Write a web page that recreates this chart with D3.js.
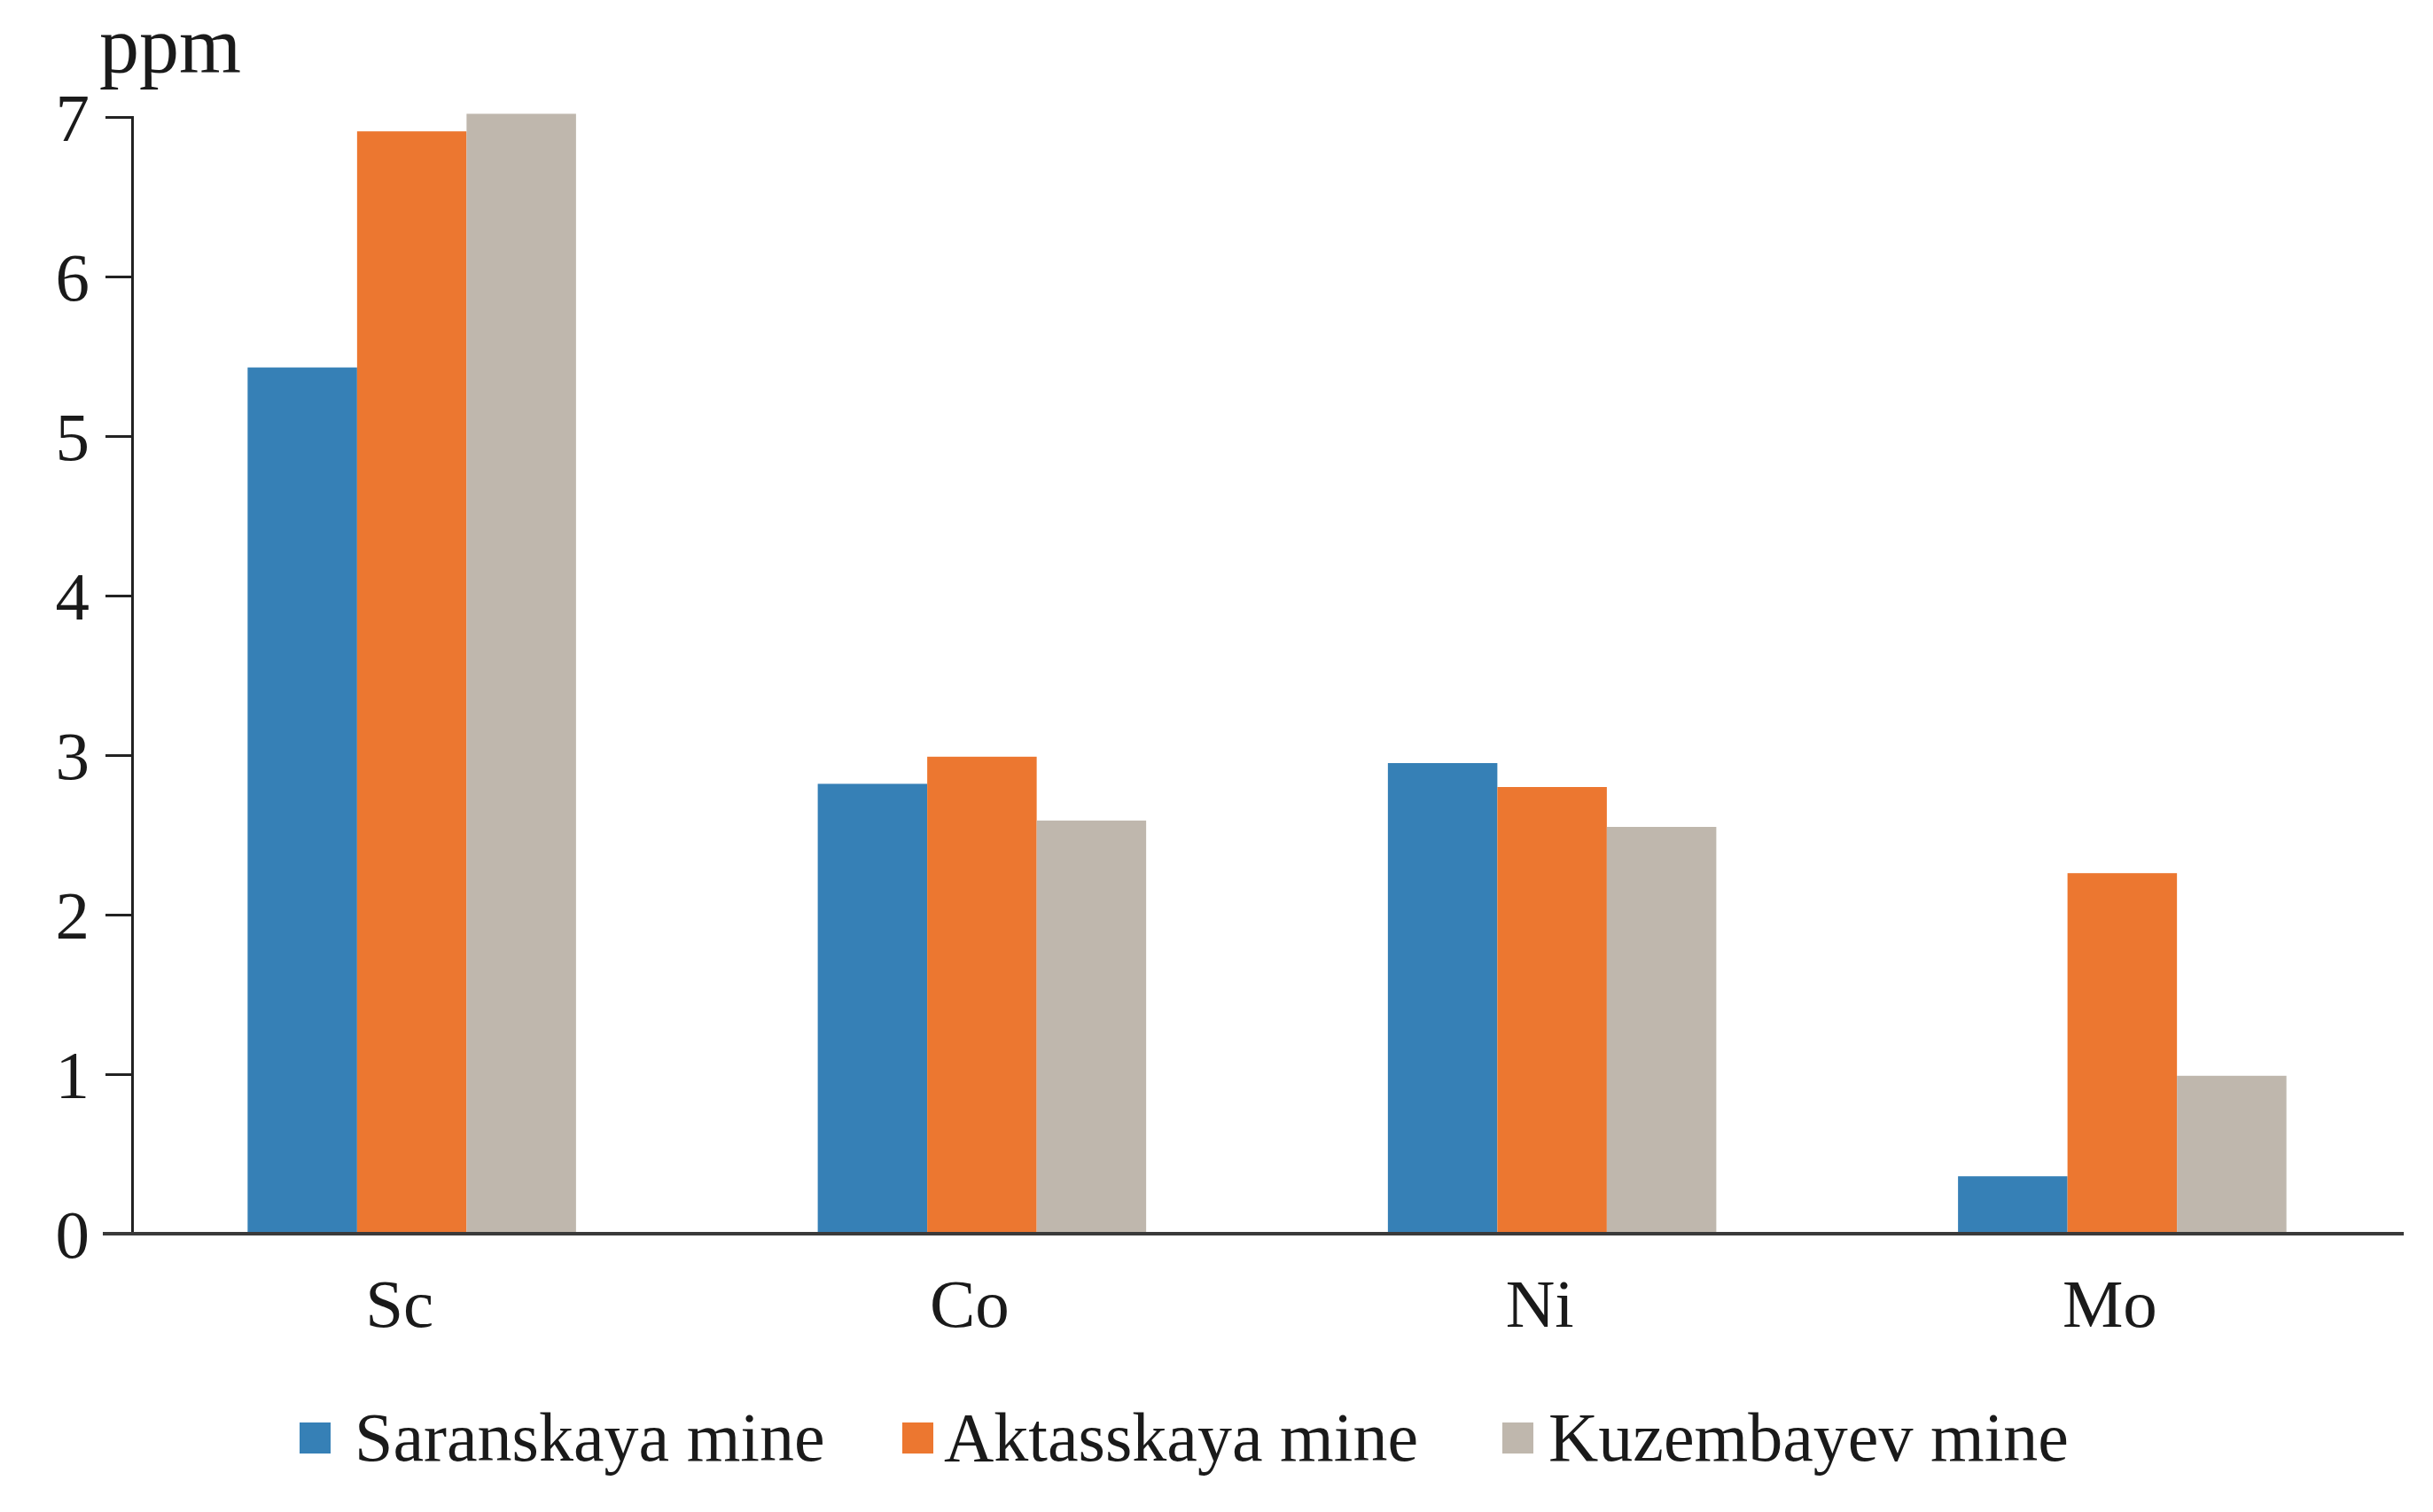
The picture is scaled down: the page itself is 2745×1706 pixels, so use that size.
<!DOCTYPE html>
<html>
<head>
<meta charset="utf-8">
<script src="https://cdn.jsdelivr.net/npm/d3@7"></script>
<style>
  html, body { margin: 0; padding: 0; background: #fff; }
  svg { display: block; }
  text { font-family: "Liberation Serif", "Times New Roman", serif; fill: #1a1a1a; }
</style>
</head>
<body>
<svg id="chart" width="2745" height="1706"></svg>
<script>
// ---- data ----
const categories = ["Sc", "Co", "Ni", "Mo"];
const seriesNames = ["Saranskaya mine", "Aktasskaya mine", "Kuzembayev mine"];
const saranskaya = [5.43, 2.82, 2.95, 0.36];
const aktasskaya = [6.91, 2.99, 2.80, 2.26];
const kuzembayev = [7.02, 2.59, 2.55, 0.99];
const yTicks = [0, 1, 2, 3, 4, 5, 6, 7];
const unitLabel = "ppm";

const seriesValues = [saranskaya, aktasskaya, kuzembayev];
const colors = ["#3680b6", "#ec7730", "#bfb7ad"];

// ---- layout ----
const W = 2745, H = 1706;
const axisX = 149, y0 = 1392, yTop = 132;
const bandStart = 143, bandEnd = 2716;

const svg = d3.select("#chart");
svg.append("rect").attr("width", W).attr("height", H).attr("fill", "#fff");

const y = d3.scaleLinear().domain([0, 7]).range([y0, yTop]);
const x0 = d3.scaleBand().domain(categories).range([bandStart, bandEnd])
  .paddingInner(0.424).paddingOuter(0.212);
const x1 = d3.scaleBand().domain(d3.range(seriesNames.length)).range([0, x0.bandwidth()]).padding(0);

// bars
const rows = categories.map((c, i) => ({ cat: c, vals: seriesValues.map((s, k) => ({ k, v: s[i] })) }));
const g = svg.append("g");
g.selectAll("g.grp").data(rows).join("g")
  .attr("class", "grp")
  .attr("transform", d => `translate(${x0(d.cat)},0)`)
  .selectAll("rect").data(d => d.vals).join("rect")
  .attr("x", d => x1(d.k))
  .attr("width", x1.bandwidth())
  .attr("y", d => y(d.v))
  .attr("height", d => y0 - y(d.v))
  .attr("fill", d => colors[d.k]);

// y axis
const yAxis = d3.axisLeft(y).tickValues(yTicks).tickFormat(d3.format("d")).tickSize(30).tickPadding(18);
const ya = svg.append("g").attr("transform", `translate(${axisX},0)`).call(yAxis);
ya.select(".domain").attr("stroke", "#222").attr("stroke-width", 3);
ya.selectAll(".tick line").attr("stroke", "#222").attr("stroke-width", 3);
ya.selectAll(".tick text").attr("font-size", 77).attr("font-family", "Liberation Serif").attr("fill", "#1a1a1a").attr("dy", "0.34em");

// x axis
const xAxis = d3.axisBottom(x0).tickSize(0).tickPadding(50);
const xa = svg.append("g").attr("transform", `translate(0,${y0})`).call(xAxis);
xa.select(".domain").remove();
xa.selectAll(".tick text").attr("font-size", 77).attr("font-family", "Liberation Serif").attr("fill", "#1a1a1a").attr("dx", -14);
svg.append("line").attr("x1", 116).attr("x2", 2712).attr("y1", y0).attr("y2", y0)
  .attr("stroke", "#3a3a3a").attr("stroke-width", 4);

// unit label
svg.append("text").attr("x", 112).attr("y", 82).attr("font-size", 90).text(unitLabel);

// legend
const legendSquareX = [338, 1018, 1695];
const legendTextX = [400, 1065, 1747];
const legend = svg.append("g").selectAll("g").data(seriesNames).join("g");
legend.append("rect").attr("x", (d, i) => legendSquareX[i]).attr("y", 1605).attr("width", 35).attr("height", 35)
  .attr("fill", (d, i) => colors[i]);
legend.append("text").attr("x", (d, i) => legendTextX[i]).attr("y", 1648).attr("font-size", 78).text(d => d);
</script>
</body>
</html>
